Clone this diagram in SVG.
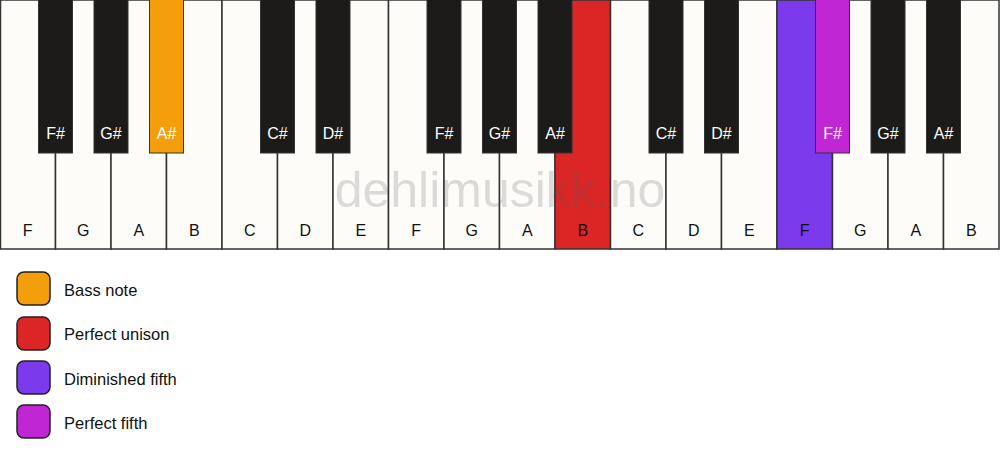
<svg xmlns="http://www.w3.org/2000/svg" width="1000" height="461" viewBox="0 0 1000 461">
<style>
.w{fill:#fdfcf9;stroke:#333;stroke-width:1.5}
.b{fill:#1c1b19;stroke:#333;stroke-width:1}
.lw{font-family:"Liberation Sans",Arial,sans-serif;font-size:16px;fill:#111;text-anchor:middle}
.lb{font-family:"Liberation Sans",Arial,sans-serif;font-size:16px;fill:#fff;text-anchor:middle}
.lg{font-family:"Liberation Sans",Arial,sans-serif;font-size:16.5px;fill:#111}
.sw{stroke:#222;stroke-width:1.5}
</style>
<rect width="1000" height="461" fill="#fff"/>
<g id="white-keys">
<g id="w0"><rect class="w" x="0.5" y="0" width="55" height="249"/><text class="lw" x="27.75" y="236">F</text></g>
<g id="w1"><rect class="w" x="55.5" y="0" width="55.5" height="249"/><text class="lw" x="83.25" y="236">G</text></g>
<g id="w2"><rect class="w" x="111" y="0" width="55.5" height="249"/><text class="lw" x="138.75" y="236">A</text></g>
<g id="w3"><rect class="w" x="166.5" y="0" width="55.5" height="249"/><text class="lw" x="194.25" y="236">B</text></g>
<g id="w4"><rect class="w" x="222" y="0" width="55.5" height="249"/><text class="lw" x="249.75" y="236">C</text></g>
<g id="w5"><rect class="w" x="277.5" y="0" width="55.5" height="249"/><text class="lw" x="305.25" y="236">D</text></g>
<g id="w6"><rect class="w" x="333" y="0" width="55.5" height="249"/><text class="lw" x="360.75" y="236">E</text></g>
<g id="w7"><rect class="w" x="388.5" y="0" width="55.5" height="249"/><text class="lw" x="416.25" y="236">F</text></g>
<g id="w8"><rect class="w" x="444" y="0" width="55.5" height="249"/><text class="lw" x="471.75" y="236">G</text></g>
<g id="w9"><rect class="w" x="499.5" y="0" width="55.5" height="249"/><text class="lw" x="527.25" y="236">A</text></g>
<g id="w10"><rect class="w" x="555" y="0" width="55.5" height="249" style="fill:#dc2626"/><text class="lw" x="582.75" y="236">B</text></g>
<g id="w11"><rect class="w" x="610.5" y="0" width="55.5" height="249"/><text class="lw" x="638.25" y="236">C</text></g>
<g id="w12"><rect class="w" x="666" y="0" width="55.5" height="249"/><text class="lw" x="693.75" y="236">D</text></g>
<g id="w13"><rect class="w" x="721.5" y="0" width="55.5" height="249"/><text class="lw" x="749.25" y="236">E</text></g>
<g id="w14"><rect class="w" x="777" y="0" width="55.5" height="249" style="fill:#7c3aed"/><text class="lw" x="804.75" y="236">F</text></g>
<g id="w15"><rect class="w" x="832.5" y="0" width="55.5" height="249"/><text class="lw" x="860.25" y="236">G</text></g>
<g id="w16"><rect class="w" x="888" y="0" width="55.5" height="249"/><text class="lw" x="915.75" y="236">A</text></g>
<g id="w17"><rect class="w" x="943.5" y="0" width="55.5" height="249"/><text class="lw" x="971.25" y="236">B</text></g>
</g>
<g id="black-keys">
<g id="b0"><rect class="b" x="38.5" y="-1" width="34" height="154"/><text class="lb" x="55.5" y="139">F#</text></g>
<g id="b1"><rect class="b" x="94" y="-1" width="34" height="154"/><text class="lb" x="111" y="139">G#</text></g>
<g id="b2"><rect class="b" x="149.5" y="-1" width="34" height="154" style="fill:#f59e0b"/><text class="lb" x="166.5" y="139">A#</text></g>
<g id="b3"><rect class="b" x="260.5" y="-1" width="34" height="154"/><text class="lb" x="277.5" y="139">C#</text></g>
<g id="b4"><rect class="b" x="316" y="-1" width="34" height="154"/><text class="lb" x="333" y="139">D#</text></g>
<g id="b5"><rect class="b" x="427" y="-1" width="34" height="154"/><text class="lb" x="444" y="139">F#</text></g>
<g id="b6"><rect class="b" x="482.5" y="-1" width="34" height="154"/><text class="lb" x="499.5" y="139">G#</text></g>
<g id="b7"><rect class="b" x="538" y="-1" width="34" height="154"/><text class="lb" x="555" y="139">A#</text></g>
<g id="b8"><rect class="b" x="649" y="-1" width="34" height="154"/><text class="lb" x="666" y="139">C#</text></g>
<g id="b9"><rect class="b" x="704.5" y="-1" width="34" height="154"/><text class="lb" x="721.5" y="139">D#</text></g>
<g id="b10"><rect class="b" x="815.5" y="-1" width="34" height="154" style="fill:#c026d3"/><text class="lb" x="832.5" y="139">F#</text></g>
<g id="b11"><rect class="b" x="871" y="-1" width="34" height="154"/><text class="lb" x="888" y="139">G#</text></g>
<g id="b12"><rect class="b" x="926.5" y="-1" width="34" height="154"/><text class="lb" x="943.5" y="139">A#</text></g>
</g>
<text id="watermark" x="500" y="207" font-family="Liberation Sans,Arial,sans-serif" font-size="50" fill="#555" fill-opacity="0.2" text-anchor="middle">dehlimusikk.no</text>
<g id="legend">
<g id="lg0"><rect class="sw" x="17" y="272" width="33" height="33" rx="7" fill="#f59e0b"/><text class="lg" x="64" y="296">Bass note</text></g>
<g id="lg1"><rect class="sw" x="17" y="317" width="33" height="33" rx="7" fill="#dc2626"/><text class="lg" x="64" y="340">Perfect unison</text></g>
<g id="lg2"><rect class="sw" x="17" y="361" width="33" height="33" rx="7" fill="#7c3aed"/><text class="lg" x="64" y="385">Diminished fifth</text></g>
<g id="lg3"><rect class="sw" x="17" y="405" width="33" height="33" rx="7" fill="#c026d3"/><text class="lg" x="64" y="429">Perfect fifth</text></g>
</g>
</svg>
